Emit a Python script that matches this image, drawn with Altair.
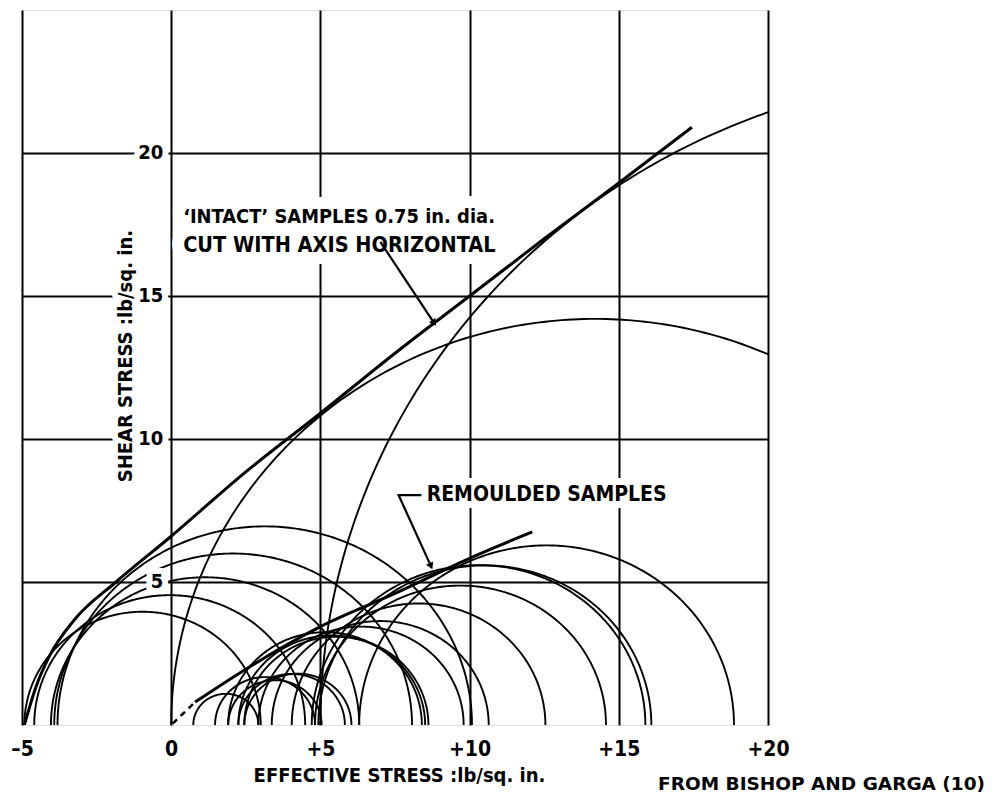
import altair as alt
import numpy as np
import pandas as pd

# ---------------- data ----------------
X_DOMAIN = [-5, 20]
Y_DOMAIN = [0, 25]
x_ticks = [-5, 0, 5, 10, 15, 20]
y_ticks = [5, 10, 15, 20]
y_tick_labels = ["5", "10", "15", "20"]

# Mohr circles: left / right end on the effective-stress axis
intact_left = [-4.92, -4.59, -4.03, -3.92, -3.81, 0.0, 5.0]
intact_right = [3.00, 4.49, 6.30, 8.07, 10.08, 28.4, 50.6]

remoulded_left = [0.74, 1.47, 1.91, 2.25, 2.45, 1.91, 2.25, 2.45, 2.92, 3.37, 4.04, 4.82, 4.71, 4.93, 6.30]
remoulded_right = [2.92, 4.82, 5.04, 5.82, 6.04, 8.40, 8.51, 8.62, 9.80, 10.64, 12.54, 14.57, 15.89, 16.09, 18.86]

# failure envelopes
intact_env_x = [-4.92, -4.53, -4.09, -3.25, -1.85, 0.0, 2.5, 5.0, 7.5, 10.0, 12.5, 15.0, 17.45]
intact_env_y = [0.0, 1.34, 2.39, 3.67, 5.0, 6.6, 8.85, 10.9, 13.0, 15.0, 17.0, 18.95, 20.9]
rem_env_x = [0.8, 2.5, 5.0, 7.5, 10.0, 12.1]
rem_env_y = [0.8, 1.95, 3.44, 4.6, 5.83, 6.75]
rem_dash_x = [0.05, 0.8]
rem_dash_y = [0.05, 0.8]

# annotation leaders
intact_lead_x = [7.01, 8.79]
intact_lead_y = [16.89, 14.09]
rem_lead_x = [8.52, 7.62, 8.69]
rem_lead_y = [8.04, 8.04, 5.59]
arrow_x = [8.79, 8.69]
arrow_y = [14.09, 5.59]
arrow_angle = [146, 155]

intact_text = ["\u2018INTACT\u2019 SAMPLES 0.75 in. dia.", "CUT WITH AXIS HORIZONTAL"]
intact_text_size = [19.9, 21.5]
intact_text_x = [0.4, 0.4]
intact_text_y = [17.75, 16.75]
rem_text = ["REMOULDED SAMPLES"]
rem_text_x = [8.56]
rem_text_y = [8.04]
ytitle_text = ["SHEAR STRESS :lb/sq. in."]
ytitle_x = [-1.5]
ytitle_y = [12.9]

NARROW = "'Liberation Sans Narrow', 'DejaVu Sans Condensed', 'Arial Narrow', sans-serif"


def circle_table(lefts, rights, group):
    theta = np.linspace(0, np.pi, 241)
    rows = []
    for i, (a, b) in enumerate(zip(lefts, rights)):
        c = (a + b) / 2.0
        r = (b - a) / 2.0
        for k, t in enumerate(theta):
            rows.append({"x": c + r * np.cos(t), "y": r * np.sin(t), "id": f"{group}{i}", "k": k})
    return pd.DataFrame(rows)


circ = pd.concat([circle_table(intact_left, intact_right, "i"),
                  circle_table(remoulded_left, remoulded_right, "r")])

env = pd.concat([
    pd.DataFrame({"x": intact_env_x, "y": intact_env_y, "id": "ie", "k": range(len(intact_env_x))}),
    pd.DataFrame({"x": rem_env_x, "y": rem_env_y, "id": "re", "k": range(len(rem_env_x))}),
])
dash = pd.DataFrame({"x": rem_dash_x, "y": rem_dash_y, "k": [0, 1]})
leads = pd.concat([
    pd.DataFrame({"x": intact_lead_x, "y": intact_lead_y, "id": "a", "k": range(2)}),
    pd.DataFrame({"x": rem_lead_x, "y": rem_lead_y, "id": "b", "k": range(3)}),
])
arrows = pd.DataFrame({"x": arrow_x, "y": arrow_y, "ang": arrow_angle})
ylab = pd.DataFrame({"x": [0] * len(y_ticks), "y": y_ticks, "t": y_tick_labels})
itext = pd.DataFrame({"x": intact_text_x, "y": intact_text_y, "t": intact_text, "fs": intact_text_size})
rtext = pd.DataFrame({"x": rem_text_x, "y": rem_text_y, "t": rem_text})
ytit = pd.DataFrame({"x": ytitle_x, "y": ytitle_y, "t": ytitle_text})

X = alt.X("x:Q", scale=alt.Scale(domain=X_DOMAIN, nice=False, zero=False),
          axis=alt.Axis(values=x_ticks, grid=True, gridColor="black", gridWidth=2, gridOpacity=1,
                        domain=False, ticks=False, labelFlush=False, labelOverlap=False,
                        labelExpr="datum.value > 0 ? '+' + datum.value : (datum.value < 0 ? '\u2013' + (-datum.value) : '0')",
                        labelFont=NARROW, labelFontSize=21, labelFontWeight="bold", labelColor="black",
                        labelPadding=13,
                        title="EFFECTIVE STRESS :lb/sq. in.", titleFont=NARROW, titleFontSize=20,
                        titleFontWeight="bold", titleColor="black", titlePadding=6, titleX=377))
Y = alt.Y("y:Q", scale=alt.Scale(domain=Y_DOMAIN, nice=False, zero=False),
          axis=alt.Axis(values=y_ticks, grid=True, gridColor="black", gridWidth=2, gridOpacity=1,
                        domain=False, ticks=False, labels=False, title=None))

circles = alt.Chart(circ).mark_line(color="black", strokeWidth=1.9, clip=True).encode(
    x=X, y=Y, detail="id:N", order="k:Q")
envelopes = alt.Chart(env).mark_line(color="black", strokeWidth=3, interpolate="monotone", clip=True).encode(
    x=X, y=Y, detail="id:N", order="k:Q")
dashed = alt.Chart(dash).mark_line(color="black", strokeWidth=2.5, strokeDash=[6, 5]).encode(
    x=X, y=Y, order="k:Q")
leaders = alt.Chart(leads).mark_line(color="black", strokeWidth=2.2).encode(
    x=X, y=Y, detail="id:N", order="k:Q")
heads = alt.Chart(arrows).mark_point(shape="triangle", filled=True, color="black", size=60, opacity=1).encode(
    x=X, y=Y, angle=alt.Angle("ang:Q", scale=None))


def txt(df, halo=0, sized=False, **kw):
    props = dict(font=NARROW, fontWeight="bold", **kw)
    if halo:
        props.update(fill="white", stroke="white", strokeWidth=halo, strokeJoin="round")
    else:
        props.update(color="black")
    enc = dict(x=X, y=Y, text="t:N")
    if sized:
        enc["size"] = alt.Size("fs:Q", scale=None)
    return alt.Chart(df).mark_text(**props).encode(**enc)


itext_halo = txt(itext, halo=24, sized=True, align="left", baseline="middle")
itext_l = txt(itext, sized=True, align="left", baseline="middle")
rtext_halo = txt(rtext, halo=14, fontSize=21, align="left", baseline="middle")
rtext_l = txt(rtext, fontSize=21, align="left", baseline="middle")
ylab_halo = txt(ylab, halo=12, fontSize=20, align="right", baseline="middle", dx=-8)
ylab_l = txt(ylab, fontSize=20, align="right", baseline="middle", dx=-8)
ytit_halo = txt(ytit, halo=12, fontSize=20, align="center", baseline="middle", angle=270)
ytit_l = txt(ytit, fontSize=20, align="center", baseline="middle", angle=270)

credit = alt.Chart(pd.DataFrame({"t": ["FROM BISHOP AND GARGA (10)"]})).mark_text(
    font="DejaVu Sans", fontWeight="bold", fontSize=18.5, align="right", baseline="middle", color="black"
).encode(x=alt.value(963), y=alt.value(774), text="t:N")

chart = alt.layer(
    itext_halo, circles, envelopes, dashed, leaders, heads,
    ylab_halo, ytit_halo, rtext_halo,
    itext_l, rtext_l, ylab_l, ytit_l, credit
).properties(
    width=746, height=715,
    padding={"left": 22, "top": 10, "right": 226, "bottom": 70},
    autosize=alt.AutoSizeParams(type="none"),
).configure_view(stroke="black", strokeWidth=3).configure(background="white")

chart.save("out.html", embed_options={"renderer": "svg", "actions": False})
